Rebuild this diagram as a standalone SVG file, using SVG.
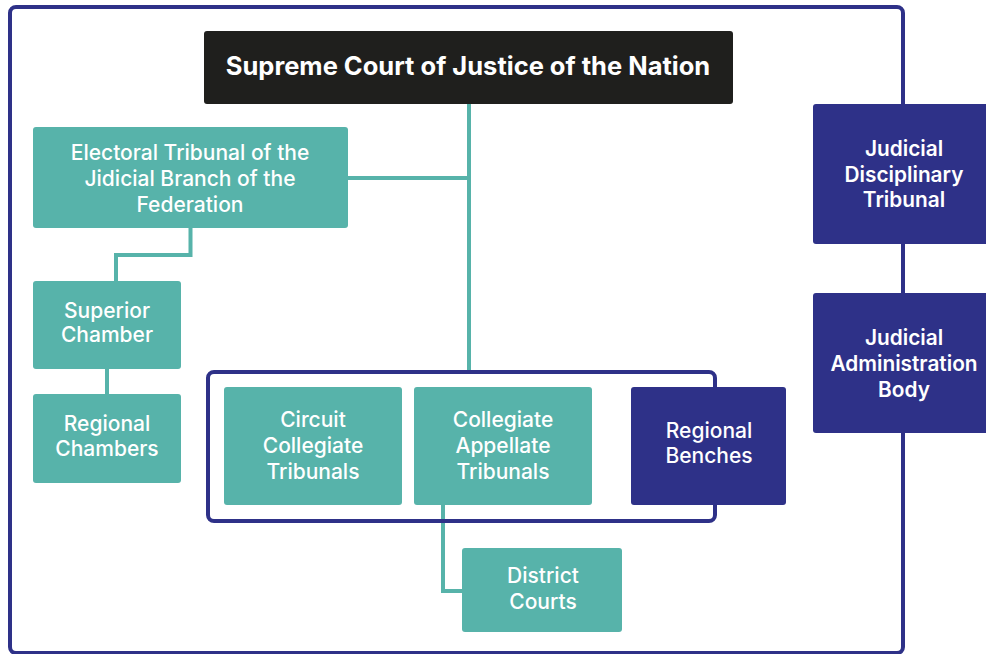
<svg xmlns="http://www.w3.org/2000/svg" width="986" height="654" viewBox="0 0 986 654">
<style>
.frame{fill:none;stroke:#2e3188;stroke-width:4}
.conn{fill:none;stroke:#57b3aa;stroke-width:4}
.teal{fill:#57b3aa}
.navy{fill:#2e3188}
.dark{fill:#1f1f1d}
.t{font-family:Inter,"Liberation Sans",sans-serif;font-size:21px;font-weight:500;fill:#ffffff;text-anchor:middle}
.tb{font-family:Inter,"Liberation Sans",sans-serif;font-size:20.8px;font-weight:600;fill:#ffffff;text-anchor:middle}
.h{font-family:Inter,"Liberation Sans",sans-serif;font-size:25.5px;font-weight:700;fill:#ffffff;text-anchor:middle}
</style>
<rect width="986" height="654" fill="#ffffff"/>
<rect class="frame" x="10" y="7" width="893" height="646" rx="6"/>
<g id="connectors">
<path class="conn" d="M469 104V372"/>
<path class="conn" d="M348 178H469"/>
<path class="conn" d="M190.5 228V255H116V281"/>
<path class="conn" d="M107 369V394"/>
<path class="conn" d="M443 505V591H462"/>
</g>
<rect class="frame" x="208" y="372" width="507" height="149" rx="6"/>
<g id="supreme">
<rect class="dark" x="204" y="31" width="529" height="73" rx="3"/>
<text class="h" x="468" y="75">Supreme Court of Justice of the Nation</text>
</g>
<g id="electoral">
<rect class="teal" x="33" y="127" width="315" height="101" rx="3"/>
<text class="t" x="190" y="160">Electoral Tribunal of the</text>
<text class="t" x="190" y="186">Jidicial Branch of the</text>
<text class="t" x="190" y="212">Federation</text>
</g>
<g id="superior">
<rect class="teal" x="33" y="281" width="148" height="88" rx="3"/>
<text class="t" x="107" y="318">Superior</text>
<text class="t" x="107" y="342">Chamber</text>
</g>
<g id="regional-chambers">
<rect class="teal" x="33" y="394" width="148" height="89" rx="3"/>
<text class="t" x="107" y="431">Regional</text>
<text class="t" x="107" y="456">Chambers</text>
</g>
<g id="circuit">
<rect class="teal" x="224" y="387" width="178" height="118" rx="3"/>
<text class="t" x="313" y="427">Circuit</text>
<text class="t" x="313" y="453">Collegiate</text>
<text class="t" x="313" y="479">Tribunals</text>
</g>
<g id="appellate">
<rect class="teal" x="414" y="387" width="178" height="118" rx="3"/>
<text class="t" x="503" y="427">Collegiate</text>
<text class="t" x="503" y="453">Appellate</text>
<text class="t" x="503" y="479">Tribunals</text>
</g>
<g id="benches">
<rect class="navy" x="631" y="387" width="155" height="118" rx="3"/>
<text class="t" x="709" y="438">Regional</text>
<text class="t" x="709" y="463">Benches</text>
</g>
<g id="district">
<rect class="teal" x="462" y="548" width="160" height="84" rx="3"/>
<text class="t" x="543" y="583">District</text>
<text class="t" x="543" y="609">Courts</text>
</g>
<g id="disciplinary">
<rect class="navy" x="813" y="104" width="176" height="140" rx="3"/>
<text class="tb" x="904" y="156">Judicial</text>
<text class="tb" x="904" y="182">Disciplinary</text>
<text class="tb" x="904" y="207">Tribunal</text>
</g>
<g id="administration">
<rect class="navy" x="813" y="293" width="176" height="140" rx="3"/>
<text class="tb" x="904" y="345">Judicial</text>
<text class="tb" x="904" y="371">Administration</text>
<text class="tb" x="904" y="397">Body</text>
</g>
</svg>
